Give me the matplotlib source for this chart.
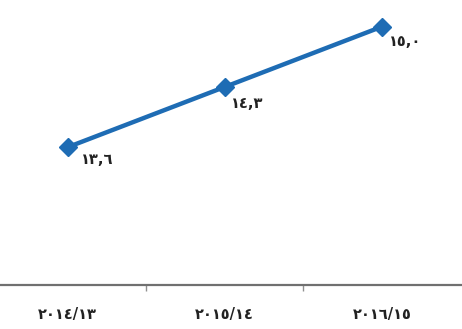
import matplotlib
matplotlib.use('Agg')
import matplotlib.pyplot as plt

# 연도별 값
years = ['٢٠١٤/١٣', '٢٠١٥/١٤', '٢٠١٦/١٥']
values = [13.6, 14.3, 15.0]

def to_arabic(v):
    # 아라비아-인도 숫자로 변환
    digits = '٠١٢٣٤٥٦٧٨٩'
    s = '%.1f' % v
    return ''.join(digits[int(c)] if c.isdigit() else ',' for c in s)

plt.rcParams['font.family'] = ['DejaVu Sans']

fig = plt.figure(figsize=(4.62, 3.29), dpi=100)
ax = fig.add_axes([0, 44 / 329, 1, 285 / 329])

x = range(len(values))
ax.plot(x, values, color='#1e6cb4', linewidth=3.2, marker='D', markersize=9.5,
        solid_capstyle='round')

offsets = [(21, -9), (16, -12), (17, -11)]
for xi, v, off in zip(x, values, offsets):
    ax.annotate(to_arabic(v), (xi, v), xytext=off, textcoords='offset points',
                ha='center', va='center', fontsize=10.5, fontweight='bold',
                color='#222222')

ax.set_xlim(-0.43, 2.51)
ax.set_ylim(12, 15.31)

for s in ['top', 'right', 'left']:
    ax.spines[s].set_visible(False)
ax.spines['bottom'].set_color('#707070')
ax.spines['bottom'].set_linewidth(1.6)

# 구간 경계 눈금
ax.set_xticks([0.5, 1.5])
ax.set_xticklabels([])
ax.tick_params(axis='x', length=4, width=1, color='#909090', direction='out')
ax.set_xticks([0, 1, 2], minor=True)
ax.set_xticklabels(years, minor=True, fontsize=10.5, fontweight='bold', color='#222222')
ax.tick_params(axis='x', which='minor', length=0, pad=16)
ax.set_yticks([])

fig.savefig('out.png', dpi=100, facecolor='white')
